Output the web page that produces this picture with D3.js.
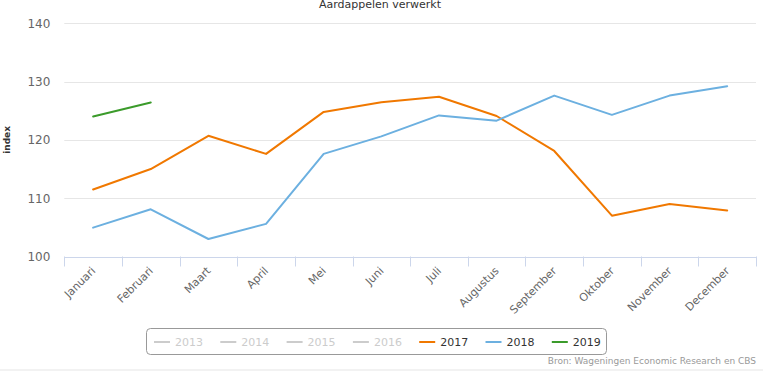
<!DOCTYPE html>
<html>
<head>
<meta charset="utf-8">
<script src="https://cdn.jsdelivr.net/npm/d3@7"></script>
<style>
  body { margin: 0; background: #fff; }
  svg { font-family: "DejaVu Sans", Verdana, sans-serif; }
</style>
</head>
<body>
<div id="chart"></div>
<script>
// Data
var months = ["Januari", "Februari", "Maart", "April", "Mei", "Juni", "Juli",
  "Augustus", "September", "Oktober", "November", "December"];
var yTicks = [100, 110, 120, 130, 140];
var years = ["2013", "2014", "2015", "2016", "2017", "2018", "2019"];
var visible = [false, false, false, false, true, true, true];
var colors = ["#cccccc", "#cccccc", "#cccccc", "#cccccc", "#f07800", "#6cb0e0", "#3b9b2b"];

var v2017 = [111.5, 115.0, 120.7, 117.6, 124.8, 126.45, 127.4, 124.1, 118.1, 107.0, 109.0, 107.9];
var v2018 = [104.95, 108.1, 103.0, 105.6, 117.6, 120.6, 124.2, 123.3, 127.6, 124.3, 127.6, 129.2];
var v2019 = [124.0, 126.4];
var series = { "2017": v2017, "2018": v2018, "2019": v2019 };

// Placement
var width = 763, height = 371,
  plotLeft = 64.3, plotRight = 756, plotTop = 23.3, plotBottom = 256.5;

var svg = d3.select("#chart").append("svg")
  .attr("width", width)
  .attr("height", height);

var x = d3.scaleBand().domain(months).range([plotLeft, plotRight]).padding(0);
var y = d3.scaleLinear().domain([100, 140]).range([plotBottom, plotTop]);

// title (partly above the top edge, as in the original)
svg.append("text")
  .attr("x", 380)
  .attr("y", 7.5)
  .attr("text-anchor", "middle")
  .attr("font-size", "11px")
  .attr("fill", "#333")
  .text("Aardappelen verwerkt");

// gridlines
svg.append("g").selectAll("line")
  .data(yTicks.filter(function(d) { return d > 100; }))
  .enter().append("line")
  .attr("x1", plotLeft)
  .attr("x2", plotRight)
  .attr("y1", function(d) { return Math.round(y(d)) + 0.5; })
  .attr("y2", function(d) { return Math.round(y(d)) + 0.5; })
  .attr("stroke", "#e6e6e6");

// y axis
var yAxis = d3.axisLeft(y).tickValues(yTicks).tickSize(0).tickPadding(14);
svg.append("g")
  .attr("transform", "translate(" + plotLeft + ",0)")
  .call(yAxis)
  .call(function(g) { g.select(".domain").remove(); })
  .selectAll("text")
  .attr("font-size", "12px")
  .attr("font-family", "DejaVu Sans, Verdana, sans-serif")
  .attr("fill", "#666");

svg.append("text")
  .attr("transform", "translate(10," + ((plotTop + plotBottom) / 2) + ")rotate(-90)")
  .attr("text-anchor", "middle")
  .attr("font-size", "9px")
  .attr("font-weight", "bold")
  .attr("fill", "#333")
  .text("index");

// x axis (ticks between categories)
var xg = svg.append("g");
xg.append("line")
  .attr("x1", plotLeft)
  .attr("x2", plotRight)
  .attr("y1", Math.round(plotBottom) + 0.5)
  .attr("y2", Math.round(plotBottom) + 0.5)
  .attr("stroke", "#ccd6eb");
xg.selectAll(".tick")
  .data(months.concat(["end"]))
  .enter().append("line")
  .attr("x1", function(d, i) { return Math.round(plotLeft + i * x.bandwidth()) + 0.5; })
  .attr("x2", function(d, i) { return Math.round(plotLeft + i * x.bandwidth()) + 0.5; })
  .attr("y1", plotBottom)
  .attr("y2", plotBottom + 10)
  .attr("stroke", "#ccd6eb");
xg.selectAll(".lbl")
  .data(months)
  .enter().append("text")
  .attr("transform", function(d) {
    return "translate(" + (x(d) + x.bandwidth() / 2 + 3) + "," + (plotBottom + 15) + ")rotate(-45)";
  })
  .attr("text-anchor", "end")
  .attr("font-size", "11px")
  .attr("fill", "#666")
  .text(function(d) { return d; });

// lines
var line = d3.line()
  .x(function(d, i) { return x(months[i]) + x.bandwidth() / 2; })
  .y(function(d) { return y(d); });

["2017", "2018", "2019"].forEach(function(yr) {
  svg.append("path")
    .datum(series[yr])
    .attr("d", line)
    .attr("fill", "none")
    .attr("stroke", colors[years.indexOf(yr)])
    .attr("stroke-width", 2)
    .attr("stroke-linejoin", "round")
    .attr("stroke-linecap", "round");
});

// legend
var legend = svg.append("g");
legend.append("rect")
  .attr("x", 146.5)
  .attr("y", 328.5)
  .attr("width", 460)
  .attr("height", 26)
  .attr("rx", 4)
  .attr("fill", "none")
  .attr("stroke", "#999");

var item = legend.selectAll(".item")
  .data(years)
  .enter().append("g")
  .attr("transform", function(d, i) { return "translate(" + (154 + i * 66.3) + ",342)"; });
item.append("line")
  .attr("x1", 0)
  .attr("x2", 16)
  .attr("stroke", function(d, i) { return colors[i]; })
  .attr("stroke-width", 2);
item.append("text")
  .attr("x", 21)
  .attr("y", 4)
  .attr("font-size", "11px")
  .attr("fill", function(d, i) { return visible[i] ? "#333" : "#cccccc"; })
  .text(function(d) { return d; });

// credits
svg.append("text")
  .attr("x", 756)
  .attr("y", 364)
  .attr("text-anchor", "end")
  .attr("font-size", "9px")
  .attr("fill", "#999")
  .text("Bron: Wageningen Economic Research en CBS");

svg.append("rect")
  .attr("x", 0)
  .attr("y", 369)
  .attr("width", width)
  .attr("height", 2)
  .attr("fill", "#f2f2f2");
</script>
</body>
</html>
